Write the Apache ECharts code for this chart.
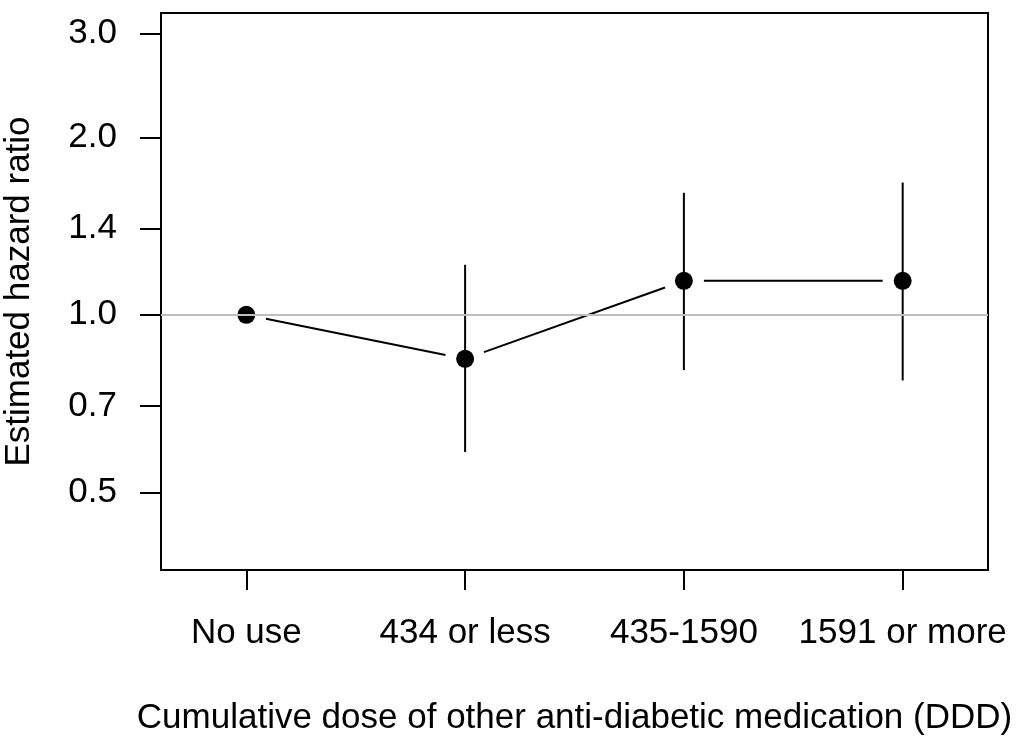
<!DOCTYPE html>
<html>
<head>
<meta charset="utf-8">
<script src="https://cdn.jsdelivr.net/npm/echarts@6/dist/echarts.min.js"></script>
<style>
  html, body { margin: 0; padding: 0; background: #fff; }
  #chart { width: 1022px; height: 738px; }
</style>
</head>
<body>
<div id="chart"></div>
<script>
// Dose groups and estimated hazard ratios with 95% confidence limits
const categories = ['No use', '434 or less', '435-1590', '1591 or more'];
const hazardRatio = [1.0, 0.842, 1.142, 1.142];
const ciLower = [null, 0.585, 0.806, 0.774];
const ciUpper = [null, 1.216, 1.611, 1.677];
const yTicks = [0.5, 0.7, 1.0, 1.4, 2.0, 3.0];
const xPositions = [1, 2, 3, 4];

// Plot ranges (log scale on y), padded by 4% on each side
const xLim = [0.75, 4.25];
const yLim = [Math.log(0.4), Math.log(3)];
const xPad = 0.04 * (xLim[1] - xLim[0]);
const yPad = 0.04 * (yLim[1] - yLim[0]);

const FONT = '"Liberation Sans", Arial, Helvetica, sans-serif';
const FONT_SIZE = 35;
const GAP = 20; // space left around each point by the connecting lines

const pointData = xPositions.map((x, i) => [x, Math.log(hazardRatio[i])]);
const segmentData = [];
for (let i = 0; i < pointData.length - 1; i++) {
  segmentData.push([pointData[i][0], pointData[i][1], pointData[i + 1][0], pointData[i + 1][1]]);
}
const ciData = [];
xPositions.forEach((x, i) => {
  if (ciLower[i] != null) ciData.push([x, Math.log(ciLower[i]), Math.log(ciUpper[i])]);
});

const chart = echarts.init(document.getElementById('chart'), null, { renderer: 'canvas' });

chart.setOption({
  animation: false,
  backgroundColor: '#fff',
  textStyle: { fontFamily: FONT },
  grid: {
    left: 161, right: 34, top: 13, bottom: 168,
    outerBoundsMode: 'none',
    containLabel: false,
    show: true, borderColor: '#000', borderWidth: 2, backgroundColor: 'transparent'
  },
  xAxis: {
    type: 'value',
    min: xLim[0] - xPad,
    max: xLim[1] + xPad,
    axisLine: { show: false, onZero: false },
    splitLine: { show: false },
    axisTick: { show: true, length: 20, customValues: xPositions, lineStyle: { color: '#000', width: 2 } },
    axisLabel: {
      customValues: xPositions,
      margin: 46,
      fontSize: FONT_SIZE, color: '#000', fontFamily: FONT,
      formatter: v => categories[Math.round(v) - 1]
    },
    name: 'Cumulative dose of other anti-diabetic medication (DDD)',
    nameLocation: 'middle',
    nameGap: 131,
    nameTextStyle: { fontSize: FONT_SIZE, color: '#000', fontFamily: FONT }
  },
  yAxis: {
    type: 'value',
    min: yLim[0] - yPad,
    max: yLim[1] + yPad,
    axisLine: { show: false, onZero: false },
    splitLine: { show: false },
    axisTick: { show: true, length: 21, customValues: yTicks.map(Math.log), lineStyle: { color: '#000', width: 2 } },
    axisLabel: {
      customValues: yTicks.map(Math.log),
      margin: 44,
      fontSize: FONT_SIZE, color: '#000', fontFamily: FONT,
      formatter: v => Math.exp(v).toFixed(1)
    },
    name: 'Estimated hazard ratio',
    nameLocation: 'middle',
    nameGap: 124,
    nameTextStyle: { fontSize: FONT_SIZE, color: '#000', fontFamily: FONT }
  },
  series: [
    {
      // reference line at HR = 1
      type: 'line',
      data: [],
      silent: true,
      markLine: {
        silent: true,
        symbol: 'none',
        label: { show: false },
        lineStyle: { color: '#bfbfbf', width: 2, type: 'solid' },
        data: [{ yAxis: 0 }]
      },
      z: 1
    },
    {
      // connecting lines with gaps around the points
      type: 'custom',
      data: segmentData,
      encode: { x: [0, 2], y: [1, 3] },
      silent: true,
      z: 3,
      renderItem: (params, api) => {
        const p1 = api.coord([api.value(0), api.value(1)]);
        const p2 = api.coord([api.value(2), api.value(3)]);
        const dx = p2[0] - p1[0], dy = p2[1] - p1[1];
        const len = Math.sqrt(dx * dx + dy * dy);
        const ux = dx / len, uy = dy / len;
        return {
          type: 'line',
          shape: {
            x1: p1[0] + ux * GAP, y1: p1[1] + uy * GAP,
            x2: p2[0] - ux * GAP, y2: p2[1] - uy * GAP
          },
          style: { stroke: '#000', lineWidth: 2 }
        };
      }
    },
    {
      // confidence intervals
      type: 'custom',
      data: ciData,
      encode: { x: 0, y: [1, 2] },
      silent: true,
      z: 3,
      renderItem: (params, api) => {
        const lo = api.coord([api.value(0), api.value(1)]);
        const hi = api.coord([api.value(0), api.value(2)]);
        return {
          type: 'line',
          shape: { x1: lo[0], y1: lo[1], x2: hi[0], y2: hi[1] },
          style: { stroke: '#000', lineWidth: 2 }
        };
      }
    },
    {
      type: 'scatter',
      data: pointData,
      symbol: 'circle',
      symbolSize: 18,
      itemStyle: { color: '#000', opacity: 1 },
      silent: true,
      z: 4
    }
  ]
});
</script>
</body>
</html>
